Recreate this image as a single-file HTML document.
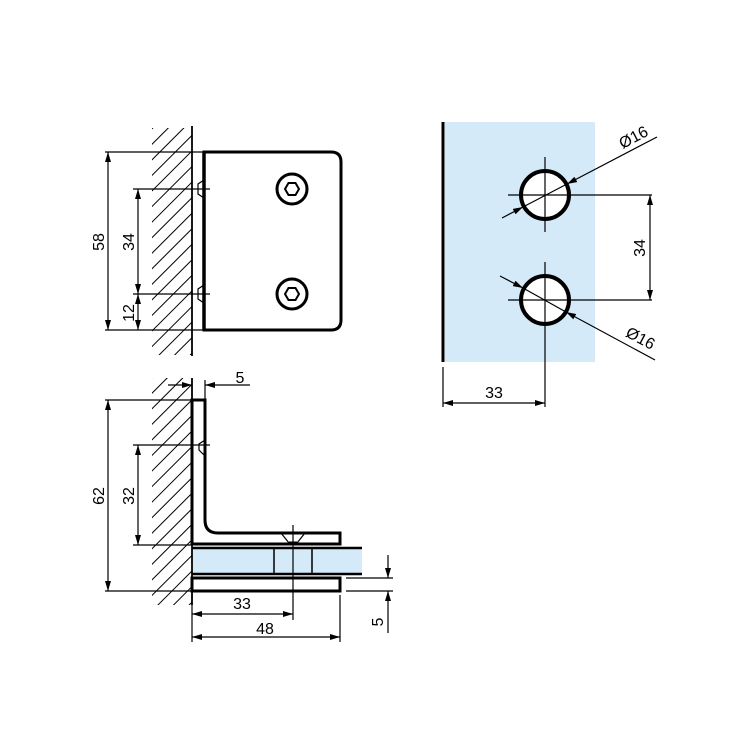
<!DOCTYPE html>
<html><head><meta charset="utf-8"><style>
html,body{margin:0;padding:0;background:#fff;}
svg{display:block;}
text{font-family:"Liberation Sans",sans-serif;font-size:16px;fill:#000;}
</style></head><body>
<svg width="750" height="751" viewBox="0 0 750 751" xmlns="http://www.w3.org/2000/svg">
<defs>
<marker id="a" viewBox="0 0 10 6" refX="10" refY="3" markerWidth="10" markerHeight="6" orient="auto-start-reverse" markerUnits="userSpaceOnUse"><path d="M0,0 L10,3 L0,6 z" fill="#000"/></marker>
<pattern id="h" width="11" height="11" patternUnits="userSpaceOnUse" patternTransform="rotate(45)"><line x1="0" y1="0" x2="0" y2="11" stroke="#000" stroke-width="2"/></pattern>
</defs>
<!-- top-left view -->
<rect x="152" y="128" width="40" height="227" fill="url(#h)"/>
<line x1="192" y1="126" x2="192" y2="356" stroke="#000" stroke-width="1.8"/>
<path d="M204,152 H331 Q341,152 341,162 V320 Q341,330 331,330 H204 Z" fill="#fff" stroke="#000" stroke-width="3"/>
<line x1="204" y1="152" x2="204" y2="330" stroke="#000" stroke-width="3.5"/>
<g stroke="#000" stroke-width="1.2" fill="none">
<line x1="105" y1="152" x2="204" y2="152"/><line x1="105" y1="330" x2="204" y2="330"/>
<line x1="133" y1="189" x2="210" y2="189"/><line x1="133" y1="294" x2="210" y2="294"/>
<path d="M204,180 L198,184 V194 L204,198"/><path d="M204,285 L198,289 V299 L204,303"/>
<line x1="108" y1="152" x2="108" y2="330" marker-start="url(#a)" marker-end="url(#a)"/>
<line x1="138" y1="189" x2="138" y2="294" marker-start="url(#a)" marker-end="url(#a)"/>
<line x1="138" y1="294" x2="138" y2="330" marker-start="url(#a)" marker-end="url(#a)"/>
</g>
<g stroke="#000" fill="none">
<circle cx="292" cy="189" r="15" stroke-width="3"/><circle cx="292" cy="294" r="15" stroke-width="3"/>
<polygon points="299,189 295.5,195 288.5,195 285,189 288.5,183 295.5,183" stroke-width="2"/>
<polygon points="299,294 295.5,300 288.5,300 285,294 288.5,288 295.5,288" stroke-width="2"/>
</g>
<text transform="translate(104,242) rotate(-90)" text-anchor="middle">58</text>
<text transform="translate(134,242) rotate(-90)" text-anchor="middle">34</text>
<text transform="translate(134,313) rotate(-90)" text-anchor="middle">12</text>
<!-- bottom-left view -->
<rect x="152" y="378" width="40" height="227" fill="url(#h)"/>
<line x1="192" y1="378" x2="192" y2="605" stroke="#000" stroke-width="1.8"/>
<rect x="193" y="549" width="169" height="24" fill="#d5eaf8"/>
<path d="M192,400 H205 V520 Q205,533 218,533 H340 V544 H192 Z" fill="#fff" stroke="#000" stroke-width="3"/>
<rect x="192" y="578" width="148" height="13" fill="#fff" stroke="#000" stroke-width="3"/>
<g stroke="#000" fill="none">
<line x1="192" y1="548" x2="362" y2="548" stroke-width="2.5"/>
<line x1="192" y1="574" x2="362" y2="574" stroke-width="2.5"/>
<line x1="196" y1="545" x2="336" y2="545" stroke-width="1"/>
<line x1="196" y1="577" x2="336" y2="577" stroke-width="1"/>
<line x1="274" y1="548" x2="274" y2="574" stroke-width="1.5"/>
<line x1="312" y1="548" x2="312" y2="574" stroke-width="1.5"/>
<path d="M281,533 L289,543 H297 L305,533" stroke-width="1.2"/>
<line x1="289" y1="543" x2="297" y2="543" stroke-width="3"/>
<path d="M205,440 L199,444 V450 L205,456" stroke-width="1.2"/>
</g>
<g stroke="#000" stroke-width="1.2" fill="none">
<line x1="105" y1="400" x2="192" y2="400"/><line x1="105" y1="591" x2="192" y2="591"/>
<line x1="133" y1="445" x2="210" y2="445"/><line x1="133" y1="545" x2="192" y2="545"/>
<line x1="108" y1="400" x2="108" y2="591" marker-start="url(#a)" marker-end="url(#a)"/>
<line x1="138" y1="445" x2="138" y2="545" marker-start="url(#a)" marker-end="url(#a)"/>
<line x1="205" y1="380" x2="205" y2="400"/>
<line x1="168" y1="385" x2="192" y2="385" marker-end="url(#a)"/>
<line x1="250" y1="385" x2="205" y2="385" marker-end="url(#a)"/>
<line x1="293" y1="525" x2="293" y2="620"/>
<line x1="192" y1="595" x2="192" y2="642"/><line x1="340" y1="595" x2="340" y2="642"/>
<line x1="192" y1="614" x2="293" y2="614" marker-start="url(#a)" marker-end="url(#a)"/>
<line x1="192" y1="637" x2="340" y2="637" marker-start="url(#a)" marker-end="url(#a)"/>
<line x1="346" y1="578" x2="393" y2="578"/><line x1="346" y1="591" x2="393" y2="591"/>
<line x1="388" y1="555" x2="388" y2="578" marker-end="url(#a)"/>
<line x1="388" y1="633" x2="388" y2="591" marker-end="url(#a)"/>
</g>
<text x="240" y="383" text-anchor="middle">5</text>
<text transform="translate(104,496) rotate(-90)" text-anchor="middle">62</text>
<text transform="translate(134,496) rotate(-90)" text-anchor="middle">32</text>
<text x="242" y="609" text-anchor="middle">33</text>
<text x="265" y="634" text-anchor="middle">48</text>
<text transform="translate(383,622) rotate(-90)" text-anchor="middle">5</text>
<!-- right view -->
<rect x="445" y="122" width="150" height="240" fill="#d5eaf8"/>
<line x1="443" y1="122" x2="443" y2="362" stroke="#000" stroke-width="3"/>
<circle cx="545" cy="195" r="24" fill="#fff" stroke="#000" stroke-width="4"/>
<circle cx="545" cy="300" r="24" fill="#fff" stroke="#000" stroke-width="4"/>
<g stroke="#000" stroke-width="1.2" fill="none">
<line x1="508" y1="195" x2="652" y2="195"/><line x1="508" y1="300" x2="652" y2="300"/>
<line x1="545" y1="157" x2="545" y2="232"/><line x1="545" y1="262" x2="545" y2="407"/>
<line x1="650" y1="195" x2="650" y2="300" marker-start="url(#a)" marker-end="url(#a)"/>
<line x1="443" y1="367" x2="443" y2="407"/>
<line x1="443" y1="403" x2="545" y2="403" marker-start="url(#a)" marker-end="url(#a)"/>
<line x1="657" y1="137" x2="567" y2="184" marker-end="url(#a)"/>
<line x1="502" y1="218" x2="523" y2="207" marker-end="url(#a)"/>
<line x1="500" y1="276" x2="523" y2="288" marker-end="url(#a)"/>
<line x1="655" y1="360" x2="566" y2="312" marker-end="url(#a)"/>
<line x1="523" y1="207" x2="567" y2="184"/><line x1="523" y1="288" x2="566" y2="312"/>
</g>
<text transform="translate(636,142) rotate(-28)" text-anchor="middle">Ø16</text>
<text transform="translate(638,343) rotate(28)" text-anchor="middle">Ø16</text>
<text transform="translate(645,248) rotate(-90)" text-anchor="middle">34</text>
<text x="494" y="398" text-anchor="middle">33</text>
</svg>
</body></html>
